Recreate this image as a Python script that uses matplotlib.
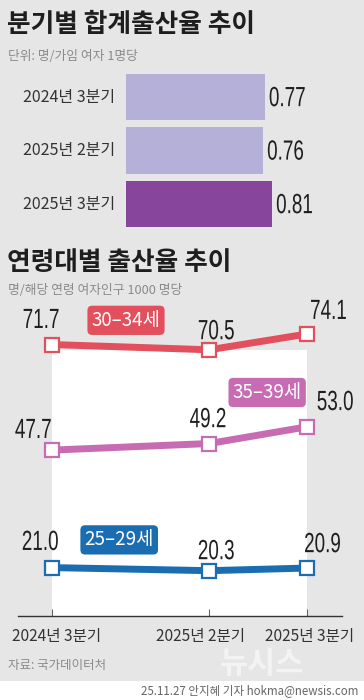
import matplotlib
matplotlib.use('Agg')
import matplotlib.pyplot as plt
from matplotlib.patches import Rectangle
from matplotlib.patheffects import AbstractPathEffect
from matplotlib.transforms import Affine2D

plt.rcParams['font.family'] = ['Noto Sans CJK KR', 'DejaVu Sans']

# 분기별 합계출산율
bar_labels = ['2024년 3분기', '2025년 2분기', '2025년 3분기']
bar_values = [0.77, 0.76, 0.81]
bar_colors = ['#b5b0d8', '#b5b0d8', '#87469b']

# 연령대별 출산율
quarters = ['2024년 3분기', '2025년 2분기', '2025년 3분기']
quarter_pos = [0, 1.85, 3]
rate_30_34 = [71.7, 70.5, 74.1]
rate_35_39 = [47.7, 49.2, 53.0]
rate_25_29 = [21.0, 20.3, 20.9]

BG = '#e6e6e6'
NUM_FONT = ['Liberation Sans', 'DejaVu Sans']


class Squeeze(AbstractPathEffect):
    """draw text narrower (condensed look) around its left edge or centre"""
    def __init__(self, sx=0.7, anchor='center'):
        super().__init__()
        self.sx = sx
        self.anchor = anchor

    def draw_path(self, renderer, gc, tpath, affine, rgbFace=None):
        ext = tpath.get_extents(affine)
        cx = ext.x0 if self.anchor == 'left' else (ext.x0 + ext.x1) / 2
        t = affine + Affine2D().translate(-cx, 0).scale(self.sx, 1).translate(cx, 0)
        renderer.draw_path(gc, tpath, t, rgbFace)


W, H = 364, 700
fig = plt.figure(figsize=(W / 100, H / 100), dpi=100)
fig.patch.set_facecolor(BG)

def fx(px):
    return px / W

def fy(py):
    return 1 - py / H

# white footer strip
fig.patches.append(Rectangle((0, 0), 1, 19 / H, transform=fig.transFigure,
                             facecolor='white', edgecolor='none', zorder=0))

# titles
fig.text(fx(7), fy(25), '분기별 합계출산율 추이', fontsize=18.5, fontweight='bold',
         color='#1e1e1e', va='center', ha='left')
fig.text(fx(8), fy(57), '단위: 명/가임 여자 1명당', fontsize=9.2, color='#8a8a8a',
         va='center', ha='left')
fig.text(fx(7), fy(262), '연령대별 출산율 추이', fontsize=18.5, fontweight='bold',
         color='#1e1e1e', va='center', ha='left')
fig.text(fx(8), fy(291), '명/해당 연령 여자인구 1000 명당', fontsize=9.2, color='#8a8a8a',
         va='center', ha='left')

# ---- bar chart ----
px_per_unit = 180
ax1 = fig.add_axes([fx(126), fy(231), fx(W - 126), (231 - 70) / H])
ax1.set_facecolor('none')
ypos = list(range(len(bar_values)))
ax1.barh(ypos, bar_values, height=0.86, color=bar_colors)
ax1.set_xlim(0, (W - 126) / px_per_unit)
ax1.set_ylim(2 + 27 / 53.5, -27 / 53.5)
for y, v, lab in zip(ypos, bar_values, bar_labels):
    ax1.text(v + 0.022, y + 0.04, f'{v:.2f}', fontsize=20, family=NUM_FONT, color='#1e1e1e',
             va='center', ha='left', path_effects=[Squeeze(0.68, 'left')])
    ax1.text(-0.06, y, lab, fontsize=11.5, color='#333333', va='center', ha='right')
ax1.axis('off')

# ---- line chart ----
ax2 = fig.add_axes([fx(18), fy(616), fx(342 - 18), (616 - 300) / H])
ax2.set_facecolor('none')
ax2.set_xlim(-0.4, 3.41)
ax2.set_ylim(10, 10 + 316 / 4.4)
ax2.add_patch(Rectangle((quarter_pos[0], 10), quarter_pos[-1] - quarter_pos[0], 70.5 - 10,
                        facecolor='white', edgecolor='none', zorder=0))

series = [
    (rate_30_34, '#e1505c', '30–34세', (0.87, 77.2)),
    (rate_35_39, '#c76cb3', '35–39세', (2.53, 60.8)),
    (rate_25_29, '#1b6db2', '25–29세', (0.79, 27.3)),
]
for vals, col, tag, (tx, ty) in series:
    ax2.plot(quarter_pos, vals, color=col, lw=5, marker='s', markersize=10.5,
             markerfacecolor='white', markeredgecolor=col, markeredgewidth=1.6,
             solid_joinstyle='miter', zorder=3)
    ax2.text(tx, ty, tag, fontsize=13.5, color='white', ha='center', va='center',
             bbox=dict(boxstyle='round,pad=0.22,rounding_size=0.25', facecolor=col,
                       edgecolor='none'), zorder=4)

# value labels (offsets from the marker, in data units)
label_offsets = {
    'r': [(-0.13, 5.35), (0.08, 4.0), (0.25, 5.0)],
    'p': [(-0.22, 4.35), (-0.015, 5.3), (0.33, 5.4)],
    'b': [(-0.14, 5.6), (0.08, 4.2), (0.18, 5.2)],
}
for key, vals in zip(['r', 'p', 'b'], [rate_30_34, rate_35_39, rate_25_29]):
    for x, v, (dx, dy) in zip(quarter_pos, vals, label_offsets[key]):
        ax2.text(x + dx, v + dy, f'{v:.1f}', fontsize=20, family=NUM_FONT,
                 color='#1e1e1e', ha='center', va='center', zorder=5,
                 path_effects=[Squeeze(0.68, 'center')])

for s in ['top', 'right', 'left']:
    ax2.spines[s].set_visible(False)
ax2.spines['bottom'].set_color('#333333')
ax2.spines['bottom'].set_linewidth(1.0)
ax2.set_yticks([])
ax2.set_xticks(quarter_pos)
ax2.set_xticklabels([])
ax2.tick_params(axis='x', direction='in', length=5, width=0.8, color='#666666')
tick_label_x = [57, 200, 310]
for px, lab in zip(tick_label_x, quarters):
    fig.text(fx(px), fy(636), lab, fontsize=11.2, color='#333333', ha='center', va='center')

# watermark and source
fig.text(fx(262), fy(664), '뉴시스', fontsize=22, fontweight='bold', color='white',
         alpha=0.55, ha='center', va='center')
fig.text(fx(8), fy(665), '자료: 국가데이터처', fontsize=9, color='#8a8a8a',
         ha='left', va='center')
fig.text(fx(358), fy(691), '25.11.27 안지혜 기자 hokma@newsis.com', fontsize=8.3,
         color='#666666', ha='right', va='center')

fig.savefig('out.png', dpi=100, facecolor=BG)
